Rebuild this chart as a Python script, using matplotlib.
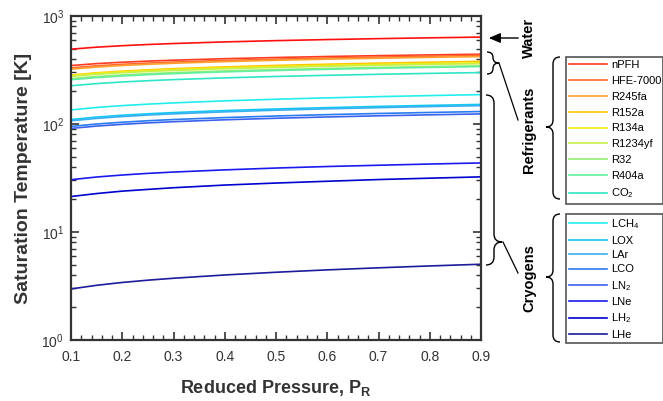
import matplotlib
matplotlib.use("Agg")
import matplotlib.pyplot as plt
from matplotlib.path import Path
from matplotlib.patches import PathPatch, FancyArrowPatch
from matplotlib.ticker import MultipleLocator, LogLocator, NullFormatter

plt.rcParams['font.family'] = ['Liberation Sans', 'DejaVu Sans']
plt.rcParams['mathtext.fontset'] = 'custom'
plt.rcParams['mathtext.rm'] = 'Liberation Sans'
plt.rcParams['mathtext.it'] = 'Liberation Sans:italic'
plt.rcParams['mathtext.bf'] = 'Liberation Sans:bold'
plt.rcParams['mathtext.default'] = 'regular'

# Reduced pressure grid
p_r = [0.1, 0.15, 0.2, 0.25, 0.3, 0.4, 0.5, 0.6, 0.7, 0.8, 0.9]

# Saturation temperatures [K]
water = [493.0, 514.5, 531.0, 544.6, 556.1, 575.5, 591.4, 605.1, 617.1, 628.0, 637.9]

refrigerant_names = ['nPFH', 'HFE-7000', 'R245fa', 'R152a', 'R134a',
                     'R1234yf', 'R32', 'R404a', 'CO$_2$']
t_npfh = [348.0, 362.3, 373.2, 382.2, 389.8, 402.4, 412.8, 421.7, 429.5, 436.5, 442.9]
t_hfe7000 = [331.0, 345.8, 357.2, 366.6, 374.5, 387.9, 399.0, 408.5, 416.9, 424.5, 431.3]
t_r245fa = [322.0, 336.6, 347.8, 357.0, 364.9, 378.1, 388.9, 398.3, 406.6, 414.1, 420.9]
t_r152a = [284.0, 297.9, 308.6, 317.5, 325.1, 337.9, 348.6, 357.8, 365.9, 373.4, 380.1]
t_r134a = [282.0, 294.8, 304.6, 312.6, 319.6, 331.1, 340.7, 348.9, 356.1, 362.7, 368.7]
t_r1234yf = [276.0, 288.7, 298.4, 306.5, 313.3, 324.8, 334.3, 342.6, 349.8, 356.4, 362.3]
t_r32 = [263.0, 275.2, 284.5, 292.2, 298.9, 309.9, 319.0, 326.9, 333.9, 340.2, 346.0]
t_r404a = [257.0, 269.1, 278.4, 286.1, 292.7, 303.8, 312.9, 320.9, 327.9, 334.2, 340.0]
t_co2 = [226.0, 236.7, 244.9, 251.7, 257.6, 267.3, 275.5, 282.4, 288.7, 294.2, 299.4]

cryogen_names = ['LCH$_4$', 'LOX', 'LAr', 'LCO', 'LN$_2$', 'LNe', 'LH$_2$', 'LHe']
t_lch4 = [135.0, 142.3, 148.0, 152.7, 156.8, 163.8, 169.6, 174.6, 179.2, 183.3, 187.1]
t_lox = [110.0, 115.9, 120.5, 124.3, 127.6, 133.1, 137.8, 141.8, 145.5, 148.8, 151.8]
t_lar = [107.0, 112.7, 117.2, 121.0, 124.2, 129.6, 134.2, 138.2, 141.7, 145.0, 147.9]
t_lco = [95.0, 100.0, 103.9, 107.2, 110.0, 114.7, 118.6, 122.1, 125.2, 127.9, 130.5]
t_ln2 = [91.0, 95.7, 99.3, 102.4, 105.0, 109.4, 113.0, 116.2, 119.1, 121.6, 124.0]
t_lne = [30.5, 32.3, 33.7, 34.9, 35.9, 37.6, 39.1, 40.4, 41.5, 42.6, 43.6]
t_lh2 = [21.3, 22.7, 23.9, 24.8, 25.7, 27.2, 28.4, 29.5, 30.6, 31.5, 32.4]
t_lhe = [2.97, 3.21, 3.41, 3.58, 3.73, 4.00, 4.24, 4.46, 4.66, 4.85, 5.03]

refrigerants = [t_npfh, t_hfe7000, t_r245fa, t_r152a, t_r134a,
                t_r1234yf, t_r32, t_r404a, t_co2]
cryogens = [t_lch4, t_lox, t_lar, t_lco, t_ln2, t_lne, t_lh2, t_lhe]

water_color = '#ff1010'
refrigerant_colors = ['#ff3a22', '#ff6a2a', '#ffa030', '#ffc400', '#f2ee10',
                      '#c8f04a', '#96ee70', '#62f0a0', '#2ee6c6']
cryogen_colors = ['#22eef0', '#10c8f4', '#38b0f0', '#2a7cf0', '#3a62ee',
                  '#1a1af0', '#0000d0', '#1c1c9c']

W, H = 663, 401
fig = plt.figure(figsize=(W / 100, H / 100), dpi=100)
ax = fig.add_axes([71 / W, 1 - 340 / H, 410 / W, 324 / H])

ax.plot(p_r, water, color=water_color, lw=1.2)
ref_lines = []
for t, c in zip(refrigerants, refrigerant_colors):
    ref_lines += ax.plot(p_r, t, color=c, lw=1.2)
cryo_lines = []
for t, c in zip(cryogens, cryogen_colors):
    cryo_lines += ax.plot(p_r, t, color=c, lw=1.2)

ax.set_yscale('log')
ax.set_xlim(0.1, 0.9)
ax.set_ylim(1, 1000)
ax.xaxis.set_major_locator(MultipleLocator(0.1))
ax.xaxis.set_minor_locator(MultipleLocator(0.02))
ax.yaxis.set_major_locator(LogLocator(base=10))
ax.yaxis.set_minor_locator(LogLocator(base=10, subs=range(2, 10)))
ax.yaxis.set_minor_formatter(NullFormatter())
ax.xaxis.set_major_formatter(plt.FuncFormatter(lambda v, _: f'{v:.1f}'))

spine_c = '#333333'
for s in ax.spines.values():
    s.set_color(spine_c)
    s.set_linewidth(1.6)
ax.tick_params(which='both', direction='in', top=True, right=True,
               color=spine_c, labelcolor='#333333', labelsize=10)
ax.tick_params(which='major', length=6, width=1.2)
ax.tick_params(which='minor', length=3.5, width=1.0)
ax.tick_params(axis='x', which='major', pad=7)
ax.tick_params(axis='y', which='major', pad=5)

ax.set_xlabel(r'Reduced Pressure, P$_\mathbf{R}$', fontsize=13, fontweight='bold',
              color='#333333', labelpad=10)
ax.set_ylabel('Saturation Temperature [K]', fontsize=14, fontweight='bold',
              color='#333333', labelpad=7)


# Legends for the two fluid groups
def group_legend(handles, labels, top, bottom, spacing):
    leg = fig.legend(handles, labels, loc='upper left', mode='expand',
                     bbox_to_anchor=(566 / W, 1 - bottom / H, (W - 566) / W, (bottom - top) / H),
                     borderaxespad=0, fontsize=8, handlelength=3.4, handletextpad=0.35,
                     labelspacing=spacing, borderpad=0.3, fancybox=False,
                     edgecolor='#555555', framealpha=1)
    leg.get_frame().set_linewidth(1.2)
    return leg


leg1 = group_legend(ref_lines, refrigerant_names, 57, 199, 0.52)
leg2 = group_legend(cryo_lines, cryogen_names, 214, 342, 0.40)

# Annotation layer in pixel coordinates
ov = fig.add_axes([0, 0, 1, 1], zorder=5)
ov.set_xlim(0, W)
ov.set_ylim(H, 0)
ov.axis('off')
ov.patch.set_alpha(0)


def brace(x0, y0, y1, ym, w, direction=1):
    xm = x0 + direction * w * 0.5
    xt = x0 + direction * w
    r = min(w * 0.5, (y1 - y0) / 4)
    verts = [(x0, y0), (xm, y0), (xm, y0 + r),
             (xm, ym - r),
             (xm, ym), (xt, ym),
             (xm, ym), (xm, ym + r),
             (xm, y1 - r),
             (xm, y1), (x0, y1)]
    codes = [Path.MOVETO, Path.CURVE3, Path.CURVE3,
             Path.LINETO,
             Path.CURVE3, Path.CURVE3,
             Path.CURVE3, Path.CURVE3,
             Path.LINETO,
             Path.CURVE3, Path.CURVE3]
    ov.add_patch(PathPatch(Path(verts, codes), fill=False, lw=1.0, color='black'))


brace(487, 52, 74, 63, 12)
brace(486, 95, 265, 242, 16)
brace(560, 57, 199, 127, 14, direction=-1)
brace(560, 214, 342, 277, 14, direction=-1)

ov.plot([499, 518], [63, 120], color='black', lw=0.9)
ov.plot([503, 518], [242, 273], color='black', lw=0.9)

ov.add_patch(FancyArrowPatch((521, 38), (486, 38), arrowstyle='-|>,head_length=7,head_width=3',
                             mutation_scale=1, color='black', lw=1.0))

label_kw = dict(rotation=90, fontsize=10.5, fontweight='bold', ha='center', va='center',
                color='black')
ov.text(529, 38, 'Water', **label_kw)
ov.text(529, 130, 'Refrigerants', **label_kw)
ov.text(529, 278, 'Cryogens', **label_kw)

fig.savefig('out.png', dpi=100)
